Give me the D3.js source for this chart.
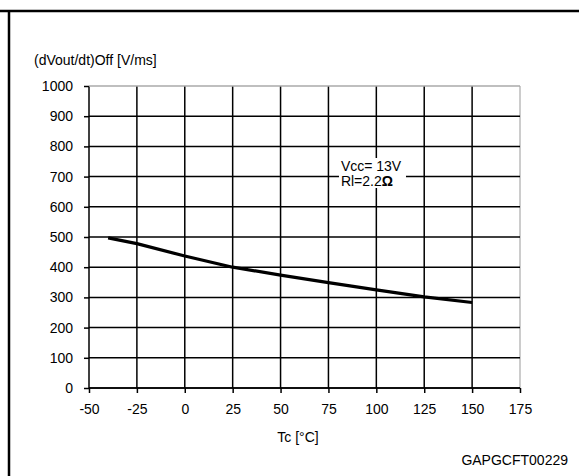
<!DOCTYPE html>
<html>
<head>
<meta charset="utf-8">
<script src="https://cdn.jsdelivr.net/npm/d3@7"></script>
<style>
  body { margin: 0; background: #fff; }
  svg text { font-family: "Liberation Sans", Arial, sans-serif; fill: #000; }
</style>
</head>
<body>
<svg id="chart" width="579" height="476"></svg>
<script>
// curve
const tempC = [-40, -25, 0, 25, 50, 75, 100, 125, 150];
const slewRate = [497, 478, 437, 400, 374, 349, 325, 302, 283];

const xTicks = [-50, -25, 0, 25, 50, 75, 100, 125, 150, 175];
const yTicks = [0, 100, 200, 300, 400, 500, 600, 700, 800, 900, 1000];

const yTitle = "(dVout/dt)Off [V/ms]";
const xTitle = "Tc [°C]";
const noteLines = ["Vcc= 13V", "Rl=2.2"];
const figCode = "GAPGCFT00229";

const svg = d3.select("#chart");

// frame lines (top and left)
svg.append("line").attr("x1", 0).attr("x2", 579).attr("y1", 11).attr("y2", 11)
  .attr("stroke", "#000").attr("stroke-width", 2.5);
svg.append("line").attr("x1", 9).attr("x2", 9).attr("y1", 11).attr("y2", 476)
  .attr("stroke", "#000").attr("stroke-width", 2.5);

const x = d3.scaleLinear().domain([-50, 175]).range([89, 520]);
const y = d3.scaleLinear().domain([0, 1000]).range([388, 86]);

// grid
const grid = svg.append("g").attr("class", "grid");
grid.selectAll("line.v")
  .data(xTicks)
  .join("line")
  .attr("class", "v")
  .attr("x1", (d) => x(d)).attr("x2", (d) => x(d))
  .attr("y1", y(1000)).attr("y2", y(0))
  .attr("stroke", (d) => (d === 175 ? "#bbb" : "#000"))
  .attr("stroke-width", 1.5);
grid.selectAll("line.h")
  .data(yTicks)
  .join("line")
  .attr("class", "h")
  .attr("x1", x(-50)).attr("x2", x(175))
  .attr("y1", (d) => y(d)).attr("y2", (d) => y(d))
  .attr("stroke", (d) => (d === 1000 ? "#aaa" : "#000"))
  .attr("stroke-width", 1.5);

// axes
const fmt = (d) => String(d);
const xAxis = svg.append("g")
  .attr("transform", `translate(0,${y(0)})`)
  .call(d3.axisBottom(x).tickValues(xTicks).tickFormat(fmt).tickSize(5).tickPadding(11));
const yAxis = svg.append("g")
  .attr("transform", `translate(${x(-50)},0)`)
  .call(d3.axisLeft(y).tickValues(yTicks).tickFormat(fmt).tickSize(5).tickPadding(11));

[xAxis, yAxis].forEach((a) => {
  a.select(".domain").attr("stroke", "#000").attr("stroke-width", 1.5);
  a.selectAll(".tick line").attr("stroke", "#000").attr("stroke-width", 1.5);
  a.selectAll(".tick text")
    .attr("font-size", "14px")
    .attr("font-family", "Liberation Sans, Arial, sans-serif")
    .attr("fill", "#000");
});
yAxis.select(".domain").remove();
xAxis.select(".domain").attr("d", `M${x(-50)},0H${x(175)}`);

// note box
const note = svg.append("g");
note.append("rect")
  .attr("x", x(80.5)).attr("y", 158)
  .attr("width", 67).attr("height", 30)
  .attr("fill", "#fff");
note.append("text")
  .attr("x", x(81.5)).attr("y", 171)
  .attr("font-size", "14px")
  .text(noteLines[0]);
const t2 = note.append("text")
  .attr("x", x(81.5)).attr("y", 186)
  .attr("font-size", "14px")
  .text(noteLines[1]);
t2.append("tspan").attr("font-weight", "bold").text("Ω");

// curve
const line = d3.line()
  .x((d, i) => x(tempC[i]))
  .y((d) => y(d));
svg.append("path")
  .datum(slewRate)
  .attr("d", line)
  .attr("fill", "none")
  .attr("stroke", "#000")
  .attr("stroke-width", 3.2)
  .attr("stroke-linejoin", "round");

// labels
svg.append("text")
  .attr("x", 34).attr("y", 65)
  .attr("font-size", "14px")
  .text(yTitle);
svg.append("text")
  .attr("x", 298).attr("y", 442)
  .attr("text-anchor", "middle")
  .attr("font-size", "14px")
  .text(xTitle);
svg.append("text")
  .attr("x", 568).attr("y", 465)
  .attr("text-anchor", "end")
  .attr("font-size", "14px")
  .text(figCode);
</script>
</body>
</html>
